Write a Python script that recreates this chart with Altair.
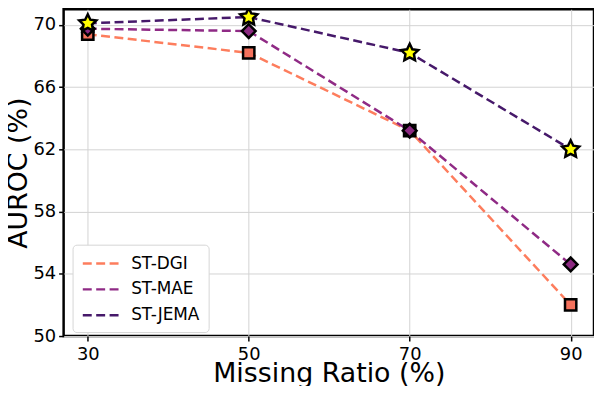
import altair as alt
import pandas as pd

ratios = [30, 50, 70, 90]
methods = ["ST-DGI", "ST-MAE", "ST-JEMA"]
st_dgi = [69.4, 68.2, 63.2, 52.0]
st_mae = [69.75, 69.6, 63.2, 54.6]
st_jema = [70.1, 70.5, 68.2, 62.0]

line_colors = ["#fd7d5d", "#8f2a85", "#46196a"]
fill_colors = ["#f4715c", "#8c2981", "#ffff00"]
star_path = "M0,-1L0.29,-0.4L0.95,-0.31L0.47,0.15L0.59,0.81L0,0.5L-0.59,0.81L-0.47,0.15L-0.95,-0.31L-0.29,-0.4Z"
shapes = ["square", "diamond", star_path]

rows = []
for m, vals in zip(methods, [st_dgi, st_mae, st_jema]):
    for r, v in zip(ratios, vals):
        rows.append({"ratio": r, "auroc": v, "method": m})
df = pd.DataFrame(rows)

x = alt.X("ratio:Q", scale=alt.Scale(domain=[27.0, 92.9], nice=False, zero=False),
          axis=alt.Axis(values=ratios, title="Missing Ratio (%)",
                        titleY=46, titleBaseline="alphabetic"))
y = alt.Y("auroc:Q", scale=alt.Scale(domain=[50, 71.0], nice=False, zero=False),
          axis=alt.Axis(values=[50, 54, 58, 62, 66, 70], title="AUROC (%)",
                        titleX=-31, titleBaseline="bottom"))

base = alt.Chart(df)

lines = base.mark_line(strokeDash=[9, 4.5], strokeWidth=2.5).encode(
    x=x, y=y,
    color=alt.Color("method:N", scale=alt.Scale(domain=methods, range=line_colors),
                    sort=methods,
                    legend=alt.Legend(title=None, orient="none", legendX=9, legendY=237,
                                      symbolType="M-2.2,0L2.2,0", symbolDash=[9, 4.5],
                                      symbolStrokeWidth=2.5, symbolSize=289,
                                      symbolOffset=10,
                                      labelFontSize=17, labelFont="DejaVu Sans",
                                      labelColor="black", rowPadding=8,
                                      padding=9, strokeColor="#d6d6d6", fillColor="white",
                                      cornerRadius=4, labelOffset=20)),
    detail="method:N",
)

sizes = [130, 190, 330]
pts = []
for m, f, s, sz in zip(methods, fill_colors, shapes, sizes):
    pts.append(
        base.transform_filter(alt.datum.method == m).mark_point(
            shape=s, filled=True, fill=f, stroke="black", strokeWidth=2.5, size=sz, opacity=1
        ).encode(x=x, y=y)
    )

chart = alt.layer(lines, *pts).properties(
    width=534, height=329,
    autosize=alt.AutoSizeParams(type="none"),
    padding={"left": 56, "top": 0, "right": 0, "bottom": 49},
).configure_view(
    stroke="black", strokeWidth=2.5
).configure_axis(
    labelFont="DejaVu Sans", titleFont="DejaVu Sans",
    labelFontSize=18, titleFontSize=27, titleFontWeight="normal",
    labelColor="black", titleColor="black",
    grid=True, gridColor="#d3d3d3", gridWidth=1,
    domain=False, tickColor="black", tickWidth=1.5, tickSize=5,
    labelPadding=3,
).configure_axisX(
    labelPadding=5
)

chart.save("out.html", embed_options={"renderer": "svg", "actions": False})
